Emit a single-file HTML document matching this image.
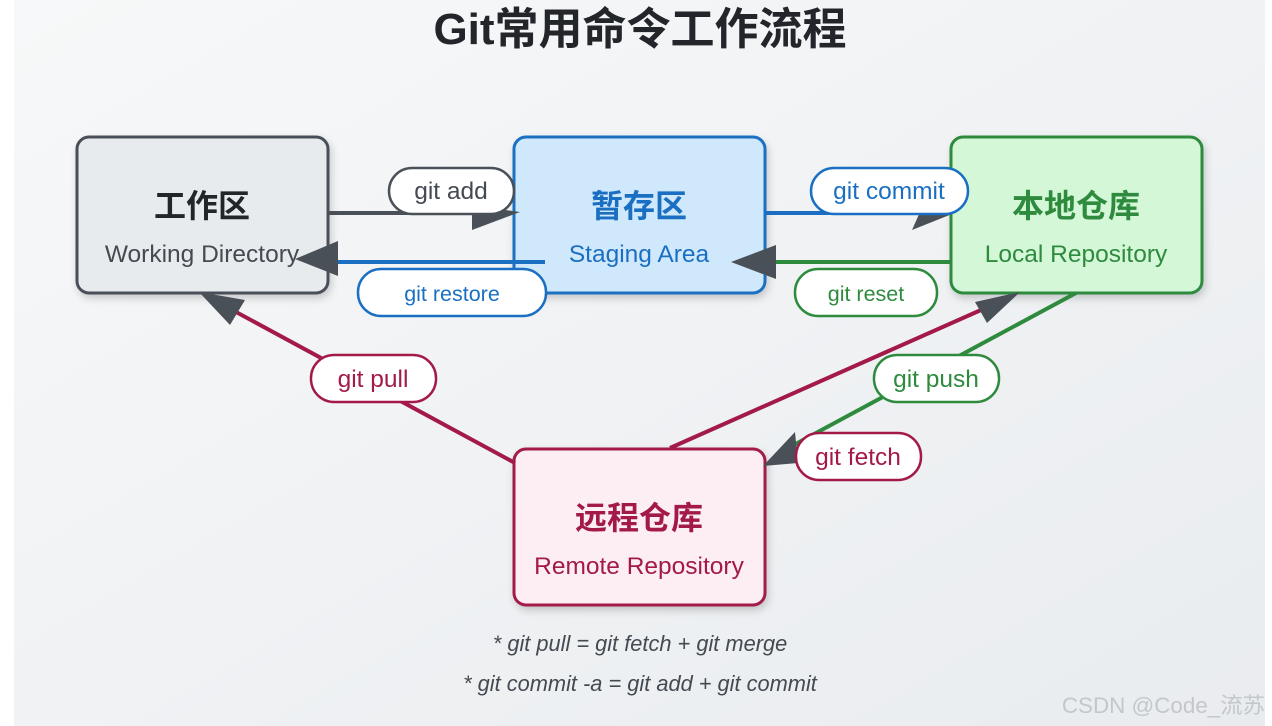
<!DOCTYPE html>
<html><head><meta charset="utf-8"><style>
html,body{margin:0;padding:0;background:#fff;width:1272px;height:726px;overflow:hidden}
svg{display:block}
text{font-family:"Liberation Sans","Noto Sans CJK SC",sans-serif}
</style></head><body>
<svg width="1272" height="726" viewBox="0 0 1272 726" xmlns="http://www.w3.org/2000/svg">
<defs>
<linearGradient id="bg" x1="0" y1="0" x2="1" y2="1">
<stop offset="0" stop-color="#f7f8f9"/><stop offset="1" stop-color="#e9ecef"/>
</linearGradient>
<filter id="sh" x="-10%" y="-10%" width="130%" height="130%"><feDropShadow dx="2" dy="4" stdDeviation="4" flood-color="#000" flood-opacity="0.18"/></filter>
</defs>
<rect x="14" y="0" width="1251" height="726" fill="url(#bg)"/>
<text x="640" y="44" text-anchor="middle" font-size="44" font-weight="bold" fill="#222529">Git常用命令工作流程</text>

<!-- boxes -->
<g stroke-width="3" filter="url(#sh)">
<rect x="77" y="137" width="251" height="156" rx="12" fill="#e8ebee" stroke="#4a5058"/>
<rect x="514" y="137" width="251" height="156" rx="12" fill="#d0e8fb" stroke="#1a6fc2"/>
<rect x="951" y="137" width="251" height="156" rx="12" fill="#d4f7d8" stroke="#2e8b3e"/>
<rect x="514" y="449" width="251" height="156" rx="12" fill="#fdeef3" stroke="#a31a4a"/>
</g>
<g text-anchor="middle">
<text x="202" y="217" font-size="32" font-weight="bold" fill="#222529">工作区</text>
<text x="202" y="262" font-size="24.5" fill="#444a52">Working Directory</text>
<text x="639" y="217" font-size="32" font-weight="bold" fill="#1a6fc2">暂存区</text>
<text x="639" y="262" font-size="24.5" fill="#1a6fc2">Staging Area</text>
<text x="1076" y="217" font-size="32" font-weight="bold" fill="#2e8b3e">本地仓库</text>
<text x="1076" y="262" font-size="24.5" fill="#2e8b3e">Local Repository</text>
<text x="639" y="529" font-size="32" font-weight="bold" fill="#a31a4a">远程仓库</text>
<text x="639" y="574" font-size="24.5" fill="#a31a4a">Remote Repository</text>
</g>

<!-- connectors -->
<g stroke-width="4" fill="none">
<line x1="328" y1="213" x2="500" y2="213" stroke="#4a5058"/>
<line x1="545" y1="262" x2="320" y2="262" stroke="#1a6fc2"/>
<line x1="765" y1="213" x2="940" y2="213" stroke="#1a6fc2"/>
<line x1="951" y1="262" x2="760" y2="262" stroke="#2e8b3e"/>
<line x1="515" y1="463" x2="225" y2="306" stroke="#a31a4a"/>
<line x1="670" y1="448" x2="990" y2="306" stroke="#a31a4a"/>
<line x1="1076" y1="293" x2="790" y2="447" stroke="#2e8b3e"/>
</g>
<g fill="#4a5058">
<polygon points="472,230 520,212 490,208 472,206"/>
<polygon points="295,259 338,241 338,276"/>
<polygon points="912,230 957,212 920,212"/>
<polygon points="731,262 776,245 776,279"/>
<polygon points="199,292 245,300 230,325"/>
<polygon points="1020,292 987,323 975,302"/>
<polygon points="763,466 795,432 798,463"/>
</g>

<!-- pills -->
<g stroke-width="2.5" fill="#fff">
<rect x="389" y="168" width="125" height="46" rx="23" stroke="#4a5058"/>
<rect x="358" y="269" width="188" height="47" rx="23" stroke="#1a6fc2"/>
<rect x="811" y="168" width="157" height="46" rx="23" stroke="#1a6fc2"/>
<rect x="795" y="269" width="142" height="47" rx="23" stroke="#2e8b3e"/>
<rect x="311" y="355" width="125" height="47" rx="23" stroke="#a31a4a"/>
<rect x="874" y="355" width="125" height="47" rx="23" stroke="#2e8b3e"/>
<rect x="796" y="433" width="125" height="47" rx="23" stroke="#a31a4a"/>
</g>
<g text-anchor="middle" font-size="24.5">
<text x="451" y="199" fill="#444a52">git add</text>
<text x="452" y="301" font-size="21.5" fill="#1a6fc2">git restore</text>
<text x="889" y="199" fill="#1a6fc2">git commit</text>
<text x="866" y="301" font-size="21.5" fill="#2e8b3e">git reset</text>
<text x="373" y="387" fill="#a31a4a">git pull</text>
<text x="936" y="387" fill="#2e8b3e">git push</text>
<text x="858" y="465" fill="#a31a4a">git fetch</text>
</g>

<g text-anchor="middle" font-size="21.8" font-style="italic" fill="#444a52">
<text x="640" y="651">* git pull = git fetch + git merge</text>
<text x="640" y="691">* git commit -a = git add + git commit</text>
</g>
<text x="1265" y="713" text-anchor="end" font-size="22.4" fill="#c4c7ca">CSDN @Code_流苏</text>
</svg>
</body></html>
